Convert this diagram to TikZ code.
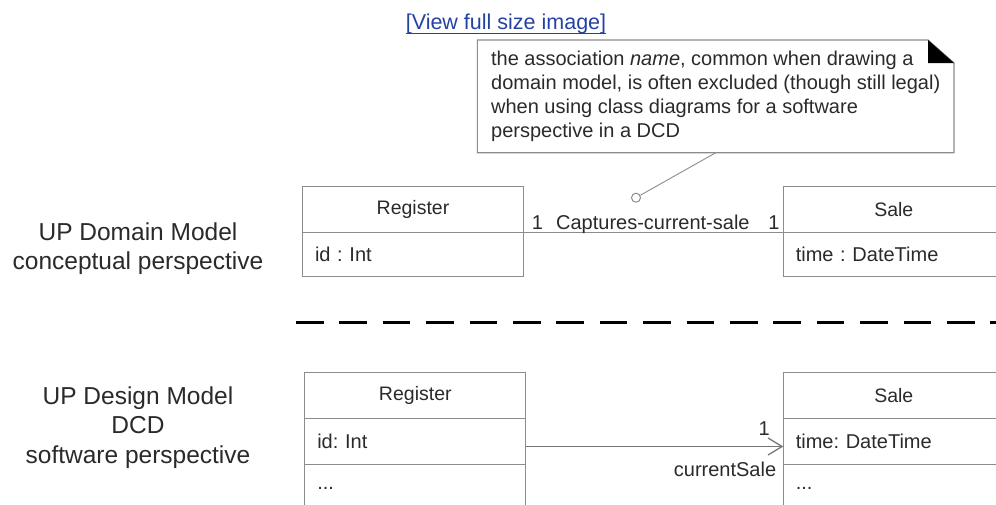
\documentclass[tikz,border=0pt]{standalone}
\usepackage{fontspec}
\setmainfont{Liberation Sans}
\usepackage{tikz}
\usetikzlibrary{arrows.meta, positioning, calc}
\definecolor{boxgray}{HTML}{8C8C8C}
\definecolor{inkgray}{HTML}{2A2A2A}
\definecolor{linkblue}{HTML}{2442A4}
\tikzstyle{classhead} = [rectangle, draw=boxgray, line width=1.2pt, outer sep=0pt, inner sep=0pt, minimum width=221pt, minimum height=46pt, text centered, text=inkgray, font=\fontsize{19.5}{23}\selectfont]
\tikzstyle{classrow}  = [rectangle, draw=boxgray, line width=1.2pt, outer sep=0pt, inner xsep=12.5pt, inner ysep=0pt, minimum width=221pt, minimum height=46pt, text width=196pt, align=left, text=inkgray, font=\fontsize{20}{24}\selectfont]
\tikzstyle{notebox}   = [rectangle, outer sep=0pt, inner sep=0pt, minimum width=476.7pt, minimum height=112.7pt, align=left, text=inkgray, font=\fontsize{20}{24}\selectfont]
\tikzstyle{sidelabel} = [align=center, text=inkgray, font=\fontsize{24.5}{29.5}\selectfont]
\tikzstyle{mult}      = [inner sep=0pt, text=inkgray, font=\fontsize{20}{24}\selectfont]
\tikzstyle{navarrow}  = [draw=boxgray!85!black, line width=1.3pt, -{Straight Barb[length=14pt,width=17pt]}]
\frenchspacing

\begin{document}
\begin{tikzpicture}[x=1pt, y=-1pt, node distance=0pt,
    assocline/.style={draw=boxgray, line width=1.2pt},
    noteline/.style={draw=boxgray, line width=0.9pt},
    anchorring/.style={circle, draw=boxgray, line width=1pt, fill=white, minimum size=9pt, inner sep=0pt},
    separator/.style={black, line width=3.4pt, dash pattern=on 27.6pt off 15.8pt}]

  \clip (0,0) rectangle (996,504);

  \node[anchor=base, inner sep=0pt, text=linkblue, font=\fontsize{21.5}{25}\selectfont] (viewlink) at (506,29.5) {[View full size image]};
  \node[notebox] (note) at (715.7,96.4) {the association \textit{name}, common when drawing a\\domain model, is often excluded (though still legal)\\when using class diagrams for a software\\perspective in a DCD};
  \node[anchorring] (ring) at (636,197.7) {};

  \node[sidelabel] (domainlbl) at (138,248.5) {UP Domain Model\\conceptual perspective};
  \node[classhead] (reg1) at (413,209.7) {Register};
  \node[classrow, below=of reg1, minimum height=43.5pt] (reg1attr) {id : Int};
  \node[classhead] (sale1) at (893.8,209.7) {Sale};
  \node[classrow, below=of sale1, minimum height=43.5pt] (sale1attr) {time : DateTime};

  \coordinate (sepstart) at (296,322.7);
  \coordinate (sepend) at (1010,322.7);

  \node[sidelabel] (designlbl) at (138,427.5) {UP Design Model\\DCD\\software perspective};
  \node[classhead] (reg2) at (415.3,395.5) {Register};
  \node[classrow, below=of reg2] (reg2attr) {id: Int};
  \node[classrow, below=of reg2attr] (reg2ops) {\raisebox{-4pt}{...}};
  \node[classhead] (sale2) at (893.8,395.5) {Sale};
  \node[classrow, below=of sale2] (sale2attr) {time: DateTime};
  \node[classrow, below=of sale2attr] (sale2ops) {\raisebox{-4pt}{...}};

  \draw[linkblue, line width=1.2pt] ([yshift=-3.8pt]viewlink.base west) -- ([yshift=-3.8pt]viewlink.base east);
  \draw[boxgray, line width=1.2pt] (note.north west) -- ([xshift=-26pt]note.north east) -- ([yshift=-23pt]note.north east) -- (note.south east) -- (note.south west) -- cycle;
  \fill[black] ([xshift=-26pt]note.north east) -- ([xshift=-26pt,yshift=-23pt]note.north east) -- ([yshift=-23pt]note.north east) -- cycle;
  \draw[noteline] (ring) -- (note.south);

  \draw[assocline] (reg1.south east)
    -- node[mult, pos=0.054, anchor=base, yshift=3.5pt] {1}
       node[mult, pos=0.498, anchor=base, yshift=3.5pt] {Captures-current-sale}
       node[mult, pos=0.964, anchor=base, yshift=3.5pt] {1} (sale1.south west);

  \draw[separator] (sepstart) -- (sepend);

  \draw[navarrow] ([yshift=-5pt]reg2attr.east) -- ([yshift=-5pt]sale2attr.west)
    node[mult, pos=1, anchor=base east, xshift=-13pt, yshift=11.5pt] {1}
    node[mult, pos=1, anchor=base east, xshift=-6.5pt, yshift=-30pt] {currentSale};
\end{tikzpicture}
\end{document}
